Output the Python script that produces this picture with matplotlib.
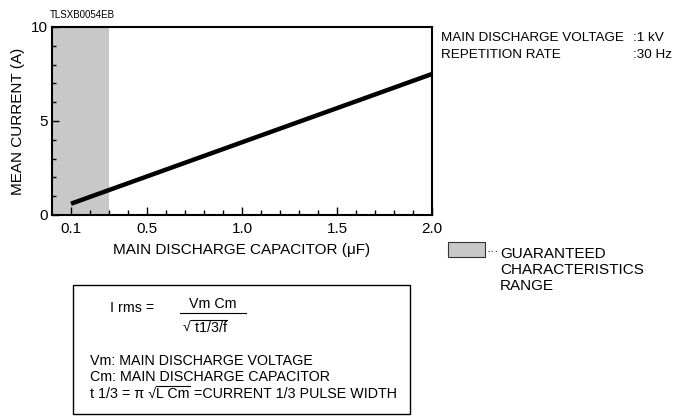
import matplotlib
matplotlib.use("Agg")
import matplotlib.pyplot as plt
from matplotlib.patches import Rectangle

plt.rcParams['font.family'] = ['Liberation Sans', 'DejaVu Sans']

# Mean current vs. main discharge capacitor
capacitance = [0.1, 2.0]      # uF
mean_current = [0.6, 7.5]     # A
guaranteed_range = (0.0, 0.3)  # uF

W, H = 691, 417
fig = plt.figure(figsize=(W / 100, H / 100), dpi=100)
renderer = fig.canvas.get_renderer()


def fx(px):
    return px / W


def fy(py):
    return 1 - py / H


def run_text(x, y, pieces, size):
    """Write text pieces left to right; pieces flagged True get an overbar."""
    for s, bar in pieces:
        t = fig.text(fx(x), fy(y), s, fontsize=size, va='center')
        bb = t.get_window_extent(renderer)
        if bar:
            top = H - bb.y1 - 1
            fig.add_artist(plt.Line2D([fx(x), fx(x + bb.width)], [fy(top), fy(top)],
                                      transform=fig.transFigure, color='black', lw=0.8))
        x += bb.width


ax = fig.add_axes([fx(52), fy(215), fx(432) - fx(52), fy(27) - fy(215)])
ax.axvspan(*guaranteed_range, color='#c8c8c8', lw=0, zorder=0)
ax.plot(capacitance, mean_current, color='black', lw=3.2, solid_capstyle='butt')

ax.set_xlim(0, 2.0)
ax.set_ylim(0, 10)
ax.set_xticks([0.1, 0.5, 1.0, 1.5, 2.0])
ax.set_xticklabels(['0.1', '0.5', '1.0', '1.5', '2.0'])
ax.set_xticks([x / 10 for x in range(1, 20)], minor=True)
ax.set_yticks([0, 5, 10])
ax.set_yticks(range(0, 11), minor=True)
ax.tick_params(which='both', direction='in', width=1, labelsize=11)
ax.tick_params(axis='x', which='major', length=6, pad=5)
ax.tick_params(axis='x', which='minor', length=3.5)
ax.tick_params(axis='y', which='major', length=5, pad=3)
ax.tick_params(axis='y', which='minor', length=3)
for s in ax.spines.values():
    s.set_linewidth(1.5)

ax.set_xlabel('MAIN DISCHARGE CAPACITOR (\u03bcF)', fontsize=11, labelpad=5)
ax.set_ylabel('MEAN CURRENT (A)', fontsize=11, va='center')
ax.yaxis.set_label_coords((18 - 52) / 380, 0.5)

fig.text(fx(50), fy(15), 'TLSXB0054EB', fontsize=7, va='center')

# conditions
fig.text(fx(441), fy(38), 'MAIN DISCHARGE VOLTAGE', fontsize=9.7, va='center')
fig.text(fx(633), fy(38), ':1 kV', fontsize=9.7, va='center')
fig.text(fx(441), fy(55), 'REPETITION RATE', fontsize=9.7, va='center')
fig.text(fx(633), fy(55), ':30 Hz', fontsize=9.7, va='center')

# legend for shaded range
fig.patches.append(Rectangle((fx(448), fy(257)), fx(485) - fx(448), fy(242) - fy(257),
                             transform=fig.transFigure, facecolor='#c8c8c8',
                             edgecolor='#333333', lw=0.8))
fig.text(fx(486), fy(252), '\u00b7\u00b7\u00b7', fontsize=9, va='center')
fig.text(fx(500), fy(270), 'GUARANTEED\nCHARACTERISTICS\nRANGE', fontsize=11,
         va='center', linespacing=1.15)

# formula box
fs = 10.3
fig.patches.append(Rectangle((fx(73), fy(414)), fx(410) - fx(73), fy(285) - fy(414),
                             transform=fig.transFigure, facecolor='none',
                             edgecolor='black', lw=1))
fig.text(fx(110), fy(308), 'I rms =', fontsize=fs, va='center')
fig.text(fx(213), fy(304), 'Vm Cm', fontsize=fs, va='center', ha='center')
fig.add_artist(plt.Line2D([fx(180), fx(246)], [fy(313), fy(313)],
                          transform=fig.transFigure, color='black', lw=0.8))
run_text(183, 328, [('\u221a', False), (' t1/3/f', True)], fs)
fig.text(fx(90), fy(361), 'Vm: MAIN DISCHARGE VOLTAGE', fontsize=fs, va='center')
fig.text(fx(90), fy(377), 'Cm: MAIN DISCHARGE CAPACITOR', fontsize=fs, va='center')
run_text(90, 394, [('t 1/3 = \u03c0 \u221a', False), ('L Cm', True),
                   (' =CURRENT 1/3 PULSE WIDTH', False)], fs)

fig.savefig('out.png', dpi=100)
